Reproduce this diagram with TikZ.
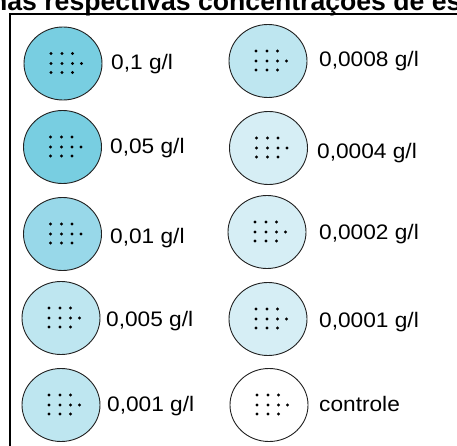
\documentclass[tikz,border=0pt]{standalone}
\usepackage{fontspec}
\setmainfont{Liberation Sans}
\newfontfamily\labelfont[FakeStretch=1.08]{Liberation Sans}
\usetikzlibrary{shapes.geometric}

\definecolor{dose1}{HTML}{78CEE1}
\definecolor{dose2}{HTML}{98D8E9}
\definecolor{dose3}{HTML}{BEE6F0}
\definecolor{dose4}{HTML}{D6EEF5}
\definecolor{rim}{HTML}{222222}

\tikzset{
  plate/.style={ellipse, draw=rim, line width=0.9pt, minimum width=78pt,
    minimum height=73pt, inner sep=0pt},
  conc/.style={anchor=base west, inner sep=0pt,
    font=\labelfont\fontsize{21pt}{24pt}\selectfont},
  heading/.style={anchor=base west, inner sep=0pt,
    font=\bfseries\fontsize{26.6pt}{30pt}\selectfont},
  frame/.style={line width=1.3pt, draw=black}
}

% the grid of holes punched into each plate
\newcommand{\holes}[1]{%
  \foreach \dx/\dy in {-12/-10,-1/-10,9.5/-10,
                       -12/0,-1/0,9.5/0,18.5/0,
                       -12/9,-1/9,9.5/9}
    \fill[black, shift={(#1.center)}] (\dx,\dy) circle (1.55pt);%
}

\begin{document}
\begin{tikzpicture}[x=1pt, y=-1pt]
\useasboundingbox (0,0) rectangle (457,446);
\clip (0,0) rectangle (457,446);

% heading, partly outside the page
\node[heading] (title) at (-9,11) {nas respectivas concentrações de es};

% frame around the plates
\coordinate (fbl) at (10,460);
\coordinate (ftl) at (10,14);
\coordinate (ftr) at (470,14);
\draw[frame] (fbl) -- (ftl) -- (ftr);

% left column
\node[plate, fill=dose1] (pa) at (63,63.5) {};
\node[plate, fill=dose1] (pb) at (62.5,147) {};
\node[plate, fill=dose2] (pc) at (62.5,234) {};
\node[plate, fill=dose3] (pd) at (61,318) {};
\node[plate, fill=dose3] (pe) at (61,405) {};

% right column
\node[plate, fill=dose3] (pf) at (268,61) {};
\node[plate, fill=dose4] (pg) at (268.5,148) {};
\node[plate, fill=dose4] (ph) at (267,232) {};
\node[plate, fill=dose4] (pi) at (268,319) {};
\node[plate, fill=white] (pj) at (269,405) {};

\foreach \p in {pa,pb,pc,pd,pe,pf,pg,ph,pi,pj} {\holes{\p}}

% concentrations
\node[conc] (la) at (111,70) {0,1 g/l};
\node[conc] (lb) at (110,154) {0,05 g/l};
\node[conc] (lc) at (110,243) {0,01 g/l};
\node[conc] (ld) at (106,326) {0,005 g/l};
\node[conc] (le) at (107,411) {0,001 g/l};

\node[conc] (lf) at (319,67) {0,0008 g/l};
\node[conc] (lg) at (317,159) {0,0004 g/l};
\node[conc] (lh) at (319,239) {0,0002 g/l};
\node[conc] (li) at (319,327) {0,0001 g/l};
\node[conc] (lj) at (319,411) {controle};
\end{tikzpicture}
\end{document}
